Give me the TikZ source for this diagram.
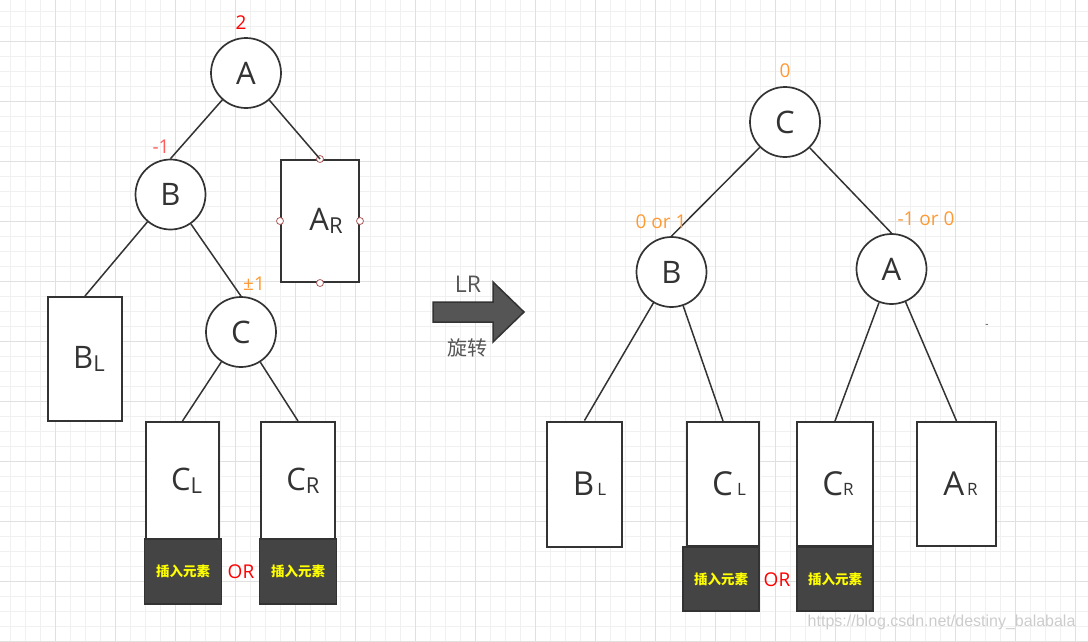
\documentclass[tikz,border=0pt]{standalone}
\usepackage{fontspec}
\setmainfont{Open Sans}
\newfontfamily\cjk{Noto Sans CJK SC}
\newfontfamily\marksans{Liberation Sans}
\usetikzlibrary{shapes}
\usetikzlibrary{positioning}

\definecolor{ink}{HTML}{333333}
\definecolor{boxgray}{HTML}{444444}
\definecolor{arrowgray}{HTML}{555555}
\definecolor{gridminor}{HTML}{F0F0F0}
\definecolor{gridmajor}{HTML}{E0E0E0}
\definecolor{bfred}{HTML}{FF0000}
\definecolor{bfpink}{HTML}{FF5C5C}
\definecolor{bforange}{HTML}{FF9933}
\definecolor{handlered}{HTML}{B05A5A}
\definecolor{inslabel}{HTML}{FFFF00}

\newcommand{\lsub}[1]{\raisebox{-3pt}{\fontsize{22}{22}\selectfont #1}}
\newcommand{\rsub}[1]{{\fontsize{17}{17}\selectfont #1}}

\tikzset{
  avl/.style={circle, draw=ink, line width=1.7pt, fill=white, minimum size=70pt,
    inner sep=0pt, text=ink, font=\fontsize{31}{31}\selectfont},
  subtree/.style={draw=ink, line width=2pt, fill=white, inner sep=0pt, text=ink,
    font=\fontsize{31}{31}\selectfont},
  insbox/.style={draw=ink, line width=1.5pt, fill=boxgray, inner sep=0pt,
    minimum width=77pt, minimum height=65pt, text=inslabel,
    font=\cjk\bfseries\fontsize{13.5}{13.5}\selectfont},
  link/.style={draw=ink, line width=1.5pt},
  handle/.style={circle, draw=handlered, fill=white, line width=0.8pt,
    minimum size=7pt, inner sep=0pt},
  bal/.style={font=\fontsize{19}{19}\selectfont},
  orlbl/.style={text=bfred, font=\fontsize{19}{19}\selectfont},
}

\begin{document}
\begin{tikzpicture}[x=1pt,y=-1pt]
  \useasboundingbox (0,0) rectangle (1088,641);
  % background grid
  \foreach \x in {10,25,...,1088} \draw[gridminor, line width=0.8pt] (\x,0) -- (\x,641);
  \foreach \y in {11,26,...,641} \draw[gridminor, line width=0.8pt] (0,\y) -- (1088,\y);
  \foreach \x in {55,115,...,1088} \draw[gridmajor, line width=0.9pt] (\x,0) -- (\x,641);
  \foreach \y in {41,101,...,641} \draw[gridmajor, line width=0.9pt] (0,\y) -- (1088,\y);

  % before rotation
  \node[avl] (lA) at (246,73) {A};
  \node[avl] (lB) at (170.5,194.5) {B};
  \node[avl] (lC) at (241,332) {C};
  \node[subtree, minimum width=74pt, minimum height=124pt] (lBL) at (85,359)
    {\hspace{8pt}B\lsub{L}};
  \node[subtree, minimum width=78pt, minimum height=122pt] (lAR) at (320,221)
    {\hspace{12pt}A\lsub{R}};
  \node[subtree, minimum width=73pt, minimum height=117pt] (lCL) at (182.5,480.5)
    {\hspace{8pt}C\lsub{L}};
  \node[subtree, minimum width=74pt, minimum height=117pt] (lCR) at (298,480.5)
    {\hspace{10pt}C\lsub{R}};
  \node[insbox] (lInsL) at (183,571.5) {插入元素};
  \node[insbox] (lInsR) at (298,571.5) {插入元素};
  \foreach \a in {north,west,east,south}
    \node[handle] at (lAR.\a) {};

  \draw[link] (lA) -- (lB.north);
  \draw[link] (lA) -- (lAR.north);
  \draw[link] (lB) -- (lBL.north);
  \draw[link] (lB) -- (lC.north);
  \draw[link] (lC) -- (lCL.north);
  \draw[link] (lC) -- (lCR.north);

  \node[bal, text=bfred] (lbA) at (241,23) {2};
  \node[bal, text=bfpink] (lbB) at (161,147) {-1};
  \node[bal, text=bforange] (lbC) at (254,284) {±1};
  \node[orlbl] (lOr) at (241,572) {OR};

  % LR rotation
  \draw[ink, line width=1.5pt, fill=arrowgray]
    (433,302) -- (493,302) -- (493,282) -- (524,312) -- (493,342) -- (493,322)
    -- (433,322) -- cycle;
  \node[text=arrowgray, font=\fontsize{23}{23}\selectfont] (lr) at (468,284) {LR};
  \node[text=arrowgray, font=\cjk\fontsize{20}{20}\selectfont] (rot) at (467,348) {旋转};

  % after rotation
  \node[avl] (rC) at (785,122) {C};
  \node[avl] (rB) at (671.5,272) {B};
  \node[avl] (rA) at (891.5,269) {A};
  \node[subtree, minimum width=75pt, minimum height=125pt, font=\fontsize{33}{33}\selectfont]
    (rBL) at (584.5,484) {\hspace{10pt}B\hspace{3pt}\rsub{L}};
  \node[subtree, minimum width=72pt, minimum height=124pt, font=\fontsize{33}{33}\selectfont]
    (rCL) at (723,484) {\hspace{12pt}C\hspace{4pt}\rsub{L}};
  \node[subtree, minimum width=76pt, minimum height=124pt, font=\fontsize{33}{33}\selectfont]
    (rCR) at (835,484) {\hspace{6pt}C\rsub{R}};
  \node[subtree, minimum width=79pt, minimum height=124pt, font=\fontsize{33}{33}\selectfont]
    (rAR) at (956.5,484) {\hspace{8pt}A\hspace{3pt}\rsub{R}};
  \node[insbox, minimum width=76pt, minimum height=64pt] (rInsL) at (721,579) {插入元素};
  \node[insbox, minimum width=76pt, minimum height=64pt] (rInsR) at (835,579) {插入元素};

  \draw[link] (rC) -- (rB.north);
  \draw[link] (rC) -- (rA.north);
  \draw[link] (rB) -- (rBL.north);
  \draw[link] (rB) -- (rCL.north);
  \draw[link] (rA) -- (rCR.north);
  \draw[link] (rA) -- (rAR.north);

  \node[bal, text=bforange] (rbC) at (785,71) {0};
  \node[bal, text=bforange] (rbB) at (661,222) {0 or 1};
  \node[bal, text=bforange] (rbA) at (926,219) {-1 or 0};
  \node[orlbl] (rOr) at (777,580) {OR};
  \node[text=ink, font=\fontsize{10}{10}\selectfont] (dash) at (987,326) {-};

  \node[anchor=east, text=black!20, font=\marksans\fontsize{16}{16}\selectfont]
    (mark) at (1079,622) {https://blog.csdn.net/destiny\_balabala};
\end{tikzpicture}
\end{document}
